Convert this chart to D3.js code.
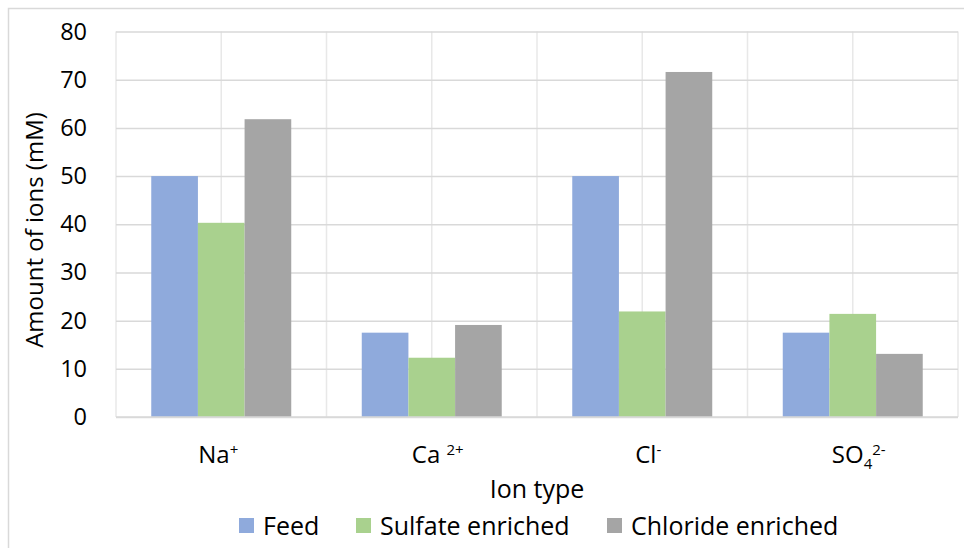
<!DOCTYPE html>
<html>
<head>
<meta charset="utf-8">
<script src="https://cdn.jsdelivr.net/npm/d3@7"></script>
<style>
  html, body { margin: 0; padding: 0; background: #fff; }
  svg { display: block; font-family: "Open Sans", "DejaVu Sans", sans-serif; }
</style>
</head>
<body>
<svg id="chart" width="964" height="548"></svg>
<script>
// Ion categories (label text split into base + superscript / subscript parts)
const categories = ["Na+", "Ca2+", "Cl-", "SO42-"];
const categoryLabels = [
  [{t: "Na"}, {t: "+", sup: true}],
  [{t: "Ca "}, {t: "2+", sup: true}],
  [{t: "Cl"}, {t: "-", sup: true}],
  [{t: "SO"}, {t: "4", sub: true}, {t: "2-", sup: true}]
];
const seriesNames = ["Feed", "Sulfate enriched", "Chloride enriched"];
const feedValues     = [50.0, 17.5, 50.0, 17.5];
const sulfateValues  = [40.3, 12.3, 21.9, 21.4];
const chlorideValues = [61.8, 19.1, 71.6, 13.1];
const yTicks = [0, 10, 20, 30, 40, 50, 60, 70, 80];
const colors = ["#8faadc", "#a9d18e", "#a5a5a5"];

const seriesValues = [feedValues, sulfateValues, chlorideValues];
const svg = d3.select("#chart");

// Plot area
const plotLeft = 116, plotRight = 958, plotTop = 31.5, plotBottom = 417;

// Outer chart frame
svg.append("rect")
  .attr("x", 8.5).attr("y", 8.5).attr("width", 970).attr("height", 560)
  .attr("fill", "none").attr("stroke", "#d9d9d9").attr("stroke-width", 1.5);

const x0 = d3.scaleBand().domain(categories).range([plotLeft, plotRight])
  .paddingInner(0.335).paddingOuter(0.1675);
const x1 = d3.scaleBand().domain(seriesNames).range([0, x0.bandwidth()]);
const y = d3.scaleLinear().domain([0, 80]).range([plotBottom, plotTop]);

// Vertical gridlines at every half category step
const halfStep = x0.step() / 2;
const vLines = d3.range(0, categories.length * 2 + 1).map(k => plotLeft + k * halfStep);
svg.append("g").selectAll("line").data(vLines).join("line")
  .attr("x1", d => d).attr("x2", d => d)
  .attr("y1", plotTop).attr("y2", plotBottom)
  .attr("stroke", "#e8e8e8").attr("stroke-width", 1.5);

// Y axis with horizontal gridlines
const yAxis = svg.append("g")
  .attr("transform", `translate(${plotLeft},0)`)
  .call(d3.axisLeft(y).tickValues(yTicks).tickSize(-(plotRight - plotLeft)).tickPadding(29));
yAxis.select(".domain").remove();
yAxis.selectAll(".tick line").attr("stroke", "#d9d9d9").attr("stroke-width", 1.5);
yAxis.selectAll(".tick text")
  .attr("fill", "#000").attr("font-size", 23.5)
  .attr("font-family", "'Open Sans', sans-serif");

// Bars
const groups = svg.append("g").selectAll("g").data(categories).join("g")
  .attr("transform", d => `translate(${x0(d)},0)`);
groups.selectAll("rect")
  .data((c, i) => seriesNames.map((s, j) => ({s, j, v: seriesValues[j][i]})))
  .join("rect")
  .attr("x", d => x1(d.s))
  .attr("width", x1.bandwidth())
  .attr("y", d => y(d.v))
  .attr("height", d => y(0) - y(d.v))
  .attr("fill", d => colors[d.j]);

// Baseline
svg.append("line")
  .attr("x1", plotLeft).attr("x2", plotRight).attr("y1", plotBottom).attr("y2", plotBottom)
  .attr("stroke", "#d9d9d9").attr("stroke-width", 1.5);

// Category labels
const catG = svg.append("g");
categories.forEach((c, i) => {
  const t = catG.append("text")
    .attr("x", x0(c) + x0.bandwidth() / 2 + (i === 0 ? -3 : 6))
    .attr("y", 463)
    .attr("text-anchor", "middle")
    .attr("font-size", 24).attr("fill", "#000");
  let shift = 0;
  categoryLabels[i].forEach(p => {
    const target = p.sup ? -8 : p.sub ? 6 : 0;
    t.append("tspan").text(p.t)
      .attr("dy", target - shift)
      .attr("font-size", p.sup || p.sub ? 15 : 24);
    shift = target;
  });
});

// Axis titles
svg.append("text")
  .attr("x", (plotLeft + plotRight) / 2).attr("y", 498)
  .attr("text-anchor", "middle").attr("font-size", 25).attr("fill", "#000")
  .text("Ion type");

svg.append("text")
  .attr("transform", "translate(43,230) rotate(-90)")
  .attr("text-anchor", "middle").attr("font-size", 24).attr("fill", "#000")
  .text("Amount of ions (mM)");

// Legend
const legendX = [239, 356, 607];
const legend = svg.append("g").selectAll("g").data(seriesNames).join("g")
  .attr("transform", (d, i) => `translate(${legendX[i]},0)`);
legend.append("rect")
  .attr("x", 0).attr("y", 518).attr("width", 15).attr("height", 15)
  .attr("fill", (d, i) => colors[i]);
legend.append("text")
  .attr("x", 24).attr("y", 535)
  .attr("font-size", 25).attr("fill", "#000")
  .text(d => d);
</script>
</body>
</html>
